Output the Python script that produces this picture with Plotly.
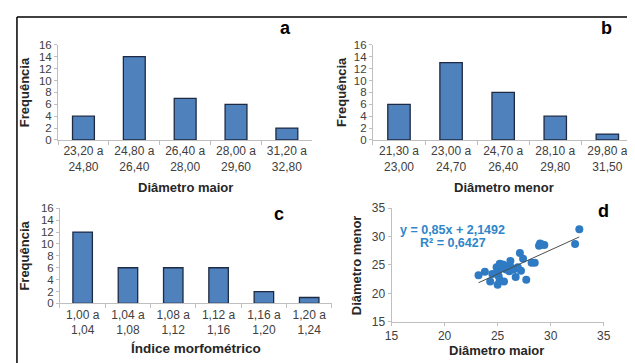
import plotly.graph_objects as go

W, H = 635, 363
OFF = 8  # default page body margin of the written HTML

# ---- data ----
cat_a = ["23,20 a<br>24,80", "24,80 a<br>26,40", "26,40 a<br>28,00", "28,00 a<br>29,60", "31,20 a<br>32,80"]
freq_a = [4, 14, 7, 6, 2]

cat_b = ["21,30 a<br>23,00", "23,00 a<br>24,70", "24,70 a<br>26,40", "28,10 a<br>29,80", "29,80 a<br>31,50"]
freq_b = [6, 13, 8, 4, 1]

cat_c = ["1,00 a<br>1,04", "1,04 a<br>1,08", "1,08 a<br>1,12", "1,12 a<br>1,16", "1,16 a<br>1,20", "1,20 a<br>1,24"]
freq_c = [12, 6, 6, 6, 2, 1]

diam_maior = [23.2, 23.8, 24.3, 24.5, 24.9, 25.0, 25.0, 25.1, 25.2, 25.2, 25.3, 25.5, 25.6,
              25.8, 26.0, 26.1, 26.2, 26.3, 26.5, 26.7, 26.9, 27.1, 27.2, 27.4, 27.7,
              28.2, 28.5, 28.9, 29.0, 29.2, 29.4, 32.3, 32.7]
diam_menor = [23.2, 23.8, 22.1, 23.4, 24.6, 24.0, 21.5, 23.0, 25.2, 22.3, 24.4, 25.1, 22.1,
              24.2, 24.8, 23.9, 25.7, 24.5, 24.2, 22.9, 24.6, 27.1, 24.0, 26.1, 22.4,
              25.4, 25.4, 28.4, 28.8, 28.6, 28.5, 28.7, 31.3]
slope, intercept = 0.85, 2.1492

# ---- helpers (page pixel -> paper fraction) ----
def px(x):
    return (x - OFF) / W

def py(y):
    return 1 - (y - OFF) / H

FONT = "Arial, Liberation Sans, sans-serif"
BAR_FILL = "#4F81BD"
BAR_LINE = "#1E2A44"
AX_COL = "#BFBFBF"
XTICK_FONT = dict(family=FONT, size=12, color="#404040")
YTICK_FONT = dict(family=FONT, size=11.5, color="#404040")

fig = go.Figure()

bar_kw = dict(marker=dict(color=BAR_FILL, line=dict(color=BAR_LINE, width=1.3)), showlegend=False, hoverinfo="skip")
fig.add_trace(go.Bar(x=cat_a, y=freq_a, xaxis="x", yaxis="y", **bar_kw))
fig.add_trace(go.Bar(x=cat_b, y=freq_b, xaxis="x2", yaxis="y2", **bar_kw))
fig.add_trace(go.Bar(x=cat_c, y=freq_c, xaxis="x3", yaxis="y3", **bar_kw))

fig.add_trace(go.Scatter(x=diam_maior, y=diam_menor, mode="markers", xaxis="x4", yaxis="y4",
                         marker=dict(color="#2E7BC4", size=8), showlegend=False))
x_line = [min(diam_maior), max(diam_maior)]
y_line = [slope * v + intercept for v in x_line]
fig.add_trace(go.Scatter(x=x_line, y=y_line, mode="lines", xaxis="x4", yaxis="y4",
                         line=dict(color="#4D4D4D", width=1), showlegend=False))

def cat_x(domain, rng, anchor):
    return dict(domain=domain, range=rng, anchor=anchor, type="category", showline=True, linecolor=AX_COL,
                linewidth=1, ticks="outside", tickson="boundaries", ticklen=4, tickcolor=AX_COL,
                tickfont=XTICK_FONT, tickangle=0, showgrid=False, zeroline=False, fixedrange=True)

def freq_y(domain, anchor):
    return dict(domain=domain, range=[0, 16], dtick=2, anchor=anchor, showline=True, linecolor=AX_COL,
                linewidth=1, ticks="outside", ticklen=3, tickcolor=AX_COL, tickfont=YTICK_FONT,
                showgrid=False, zeroline=False, fixedrange=True)

ya_dom = [py(138), py(39)]
yc_dom = [py(308), py(209)]

fig.update_layout(
    width=W, height=H, margin=dict(l=0, r=0, t=0, b=0),
    paper_bgcolor="white", plot_bgcolor="white",
    font=dict(family=FONT, color="#404040"),
    bargap=0.57,
    xaxis=cat_x([px(52), px(312)], [-0.5, 4.5], "y"),
    yaxis=freq_y(ya_dom, "x"),
    xaxis2=cat_x([px(374), px(635)], [-0.5, 4.40], "y2"),
    yaxis2=freq_y(ya_dom, "x2"),
    xaxis3=cat_x([px(54), px(332)], [-0.5, 5.5], "y3"),
    yaxis3=freq_y(yc_dom, "x3"),
    xaxis4=dict(domain=[px(393), px(610)], range=[15, 35], dtick=5, anchor="y4", showline=True,
                linecolor=AX_COL, ticks="outside", ticklen=3, tickcolor=AX_COL, tickfont=XTICK_FONT,
                tickangle=0, showgrid=False, zeroline=False),
    yaxis4=dict(domain=[py(327), py(209)], range=[15, 35], dtick=5, anchor="x4", showline=True,
                linecolor=AX_COL, ticks="outside", ticklen=3, tickcolor=AX_COL, tickfont=XTICK_FONT,
                showgrid=False, zeroline=False),
)

def ann(text, x, y, size=13, angle=0, color="#262626", bold=True):
    t = f"<b>{text}</b>" if bold else text
    fig.add_annotation(text=t, x=px(x), y=py(y), xref="paper", yref="paper", showarrow=False,
                       textangle=angle, xanchor="center", yanchor="middle",
                       font=dict(family=FONT, size=size, color=color))

ann("a", 285, 22, size=18, color="black")
ann("b", 613, 22, size=18, color="black")
ann("c", 278, 215, size=18, color="black")
ann("d", 610, 212, size=18, color="black")

ann("Frequência", 18, 88.5, angle=-90)
ann("Frequência", 342, 88.5, angle=-90)
ann("Frequência", 18, 258.5, angle=-90)
ann("Diâmetro menor", 358, 268, angle=-90)

ann("Diâmetro maior", 182, 187)
ann("Diâmetro menor", 508, 187)
ann("Índice morfométrico", 193, 355, size=13.5)
ann("Diâmetro maior", 500, 357)

ann("y = 0,85x + 2,1492", 455, 232, size=12.5, color="#2F86C8")
ann("R² = 0,6427", 456, 245, size=12.5, color="#2F86C8")

# outer frame (top and left edges)
fig.add_shape(type="line", xref="paper", yref="paper", x0=px(10), x1=1, y0=py(10), y1=py(10),
              line=dict(color="black", width=1.5))
fig.add_shape(type="line", xref="paper", yref="paper", x0=px(10), x1=px(10), y0=py(10), y1=0,
              line=dict(color="black", width=1.5))

fig.write_html("out.html")
